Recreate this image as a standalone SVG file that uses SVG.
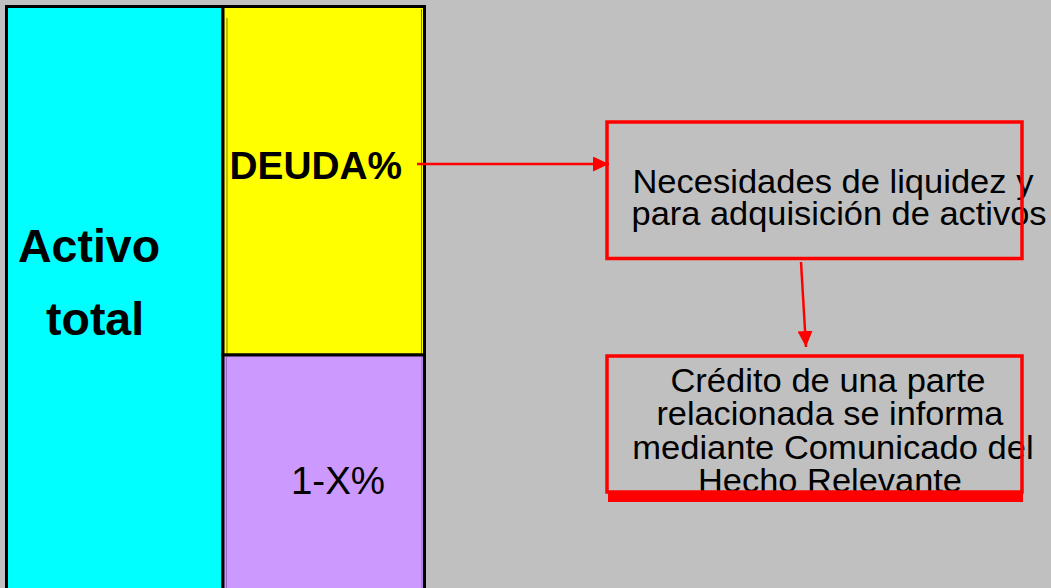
<svg xmlns="http://www.w3.org/2000/svg" width="1051" height="588" viewBox="0 0 1051 588">
<style>
.bold{font-family:"Liberation Sans",Arial,sans-serif;font-weight:bold;fill:#000}
.reg{font-family:"Liberation Sans",Arial,sans-serif;fill:#000}
.box{fill:none;stroke:#FF0000;stroke-width:3.5}
.conn{stroke:#FF0000;stroke-width:2.5;fill:none}
</style>
<defs>
<marker id="ah" markerUnits="userSpaceOnUse" markerWidth="17" markerHeight="15" refX="16" refY="7.5" orient="auto">
<path d="M0,0 L16,7.5 L0,15 z" fill="#FF0000"/>
</marker>
</defs>
<rect x="0" y="0" width="1051" height="588" fill="#C0C0C0"/>
<g id="activo-total">
<rect x="6.5" y="6.5" width="216.5" height="590" fill="#00FFFF" stroke="#000" stroke-width="3"/>
<text class="bold" x="18" y="262" font-size="46.5">Activo</text>
<text class="bold" x="46" y="335" font-size="46.5">total</text>
</g>
<g id="deuda">
<rect x="223" y="6.5" width="201.5" height="348.5" fill="#FFFF00" stroke="#000" stroke-width="3"/>
<line x1="227" y1="18" x2="227" y2="353" stroke="#808000" stroke-width="1"/>
<line x1="421.5" y1="9" x2="421.5" y2="353" stroke="#808000" stroke-width="1"/>
<text class="bold" x="229.5" y="178.5" font-size="38.8">DEUDA%</text>
</g>
<g id="resto">
<rect x="223" y="355" width="201.5" height="240" fill="#CC99FF" stroke="#000" stroke-width="3"/>
<line x1="226.5" y1="357" x2="226.5" y2="588" stroke="#9966CC" stroke-width="1"/>
<line x1="422" y1="357" x2="422" y2="588" stroke="#9966CC" stroke-width="1"/>
<text class="reg" x="338" y="494" font-size="38.5" text-anchor="middle">1-X%</text>
</g>
<g id="necesidades">
<text class="reg" font-size="33" text-anchor="middle">
<tspan x="837.5" y="192.5" textLength="401" lengthAdjust="spacingAndGlyphs">Necesidades de liquidez y</tspan>
<tspan x="839" y="225" textLength="415" lengthAdjust="spacingAndGlyphs">para adquisición de activos</tspan>
</text>
<rect class="box" x="607" y="122" width="415" height="136.5"/>
</g>
<g id="credito">
<text class="reg" font-size="33" text-anchor="middle">
<tspan x="832.5" y="391.5" textLength="315" lengthAdjust="spacingAndGlyphs">Crédito de una parte</tspan>
<tspan x="834.5" y="425" textLength="347" lengthAdjust="spacingAndGlyphs">relacionada se informa</tspan>
<tspan x="837.5" y="458.5" textLength="401.5" lengthAdjust="spacingAndGlyphs">mediante Comunicado del</tspan>
<tspan x="830" y="491.5" textLength="264" lengthAdjust="spacingAndGlyphs">Hecho Relevante</tspan>
</text>
<rect class="box" x="607" y="356" width="415" height="136"/>
<rect x="608" y="492" width="415" height="10" fill="#FF0000"/>
</g>
<g id="connectors">
<line class="conn" x1="417" y1="164" x2="609" y2="164" marker-end="url(#ah)"/>
<line class="conn" x1="801" y1="262" x2="806" y2="347" marker-end="url(#ah)"/>
</g>
</svg>
